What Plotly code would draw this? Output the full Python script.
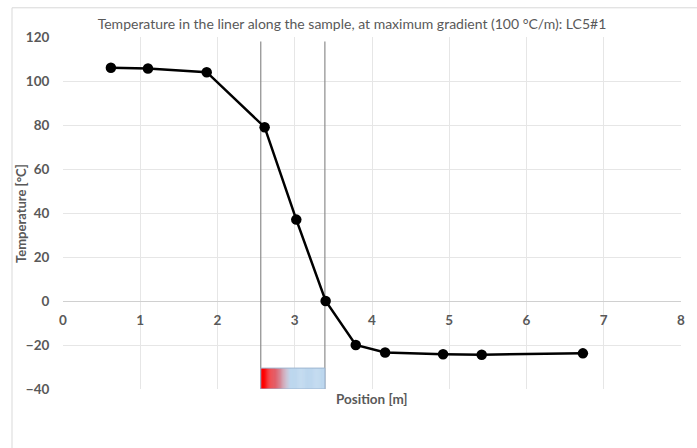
import plotly.graph_objects as go

# Measured liner temperature along the sample
position_m = [0.62, 1.10, 1.86, 2.61, 3.02, 3.40, 3.79, 4.17, 4.92, 5.42, 6.73]
temperature_c = [106, 105.7, 104, 79, 37, 0, -20, -23.4, -24.2, -24.4, -23.8]

# Sample zone boundaries [m] and the band drawn under it
sample_zone = [2.56, 3.39]
zone_band = [-40, -30.5]
zone_line_top = 118

x_ticks = [0, 1, 2, 3, 4, 5, 6, 7, 8]
y_ticks = [-40, -20, 0, 20, 40, 60, 80, 100, 120]

TXT = "#595959"
GRID = "#E6E6E6"
FONT = "Lato, Open Sans, sans-serif"

fig = go.Figure()

# Vertical lines marking the sample zone
for xv in sample_zone:
    fig.add_trace(go.Scatter(
        x=[xv, xv], y=[zone_band[0], zone_line_top], mode="lines",
        line=dict(color="#8C8C8C", width=1.2), hoverinfo="skip", showlegend=False))

fig.add_trace(go.Scatter(
    x=position_m, y=temperature_c, mode="lines+markers",
    line=dict(color="black", width=2.5),
    marker=dict(color="black", size=10.5),
    showlegend=False))

# Red-to-blue gradient band under the sample zone
def mix(c1, c2, t):
    return tuple(round(a + (b - a) * t) for a, b in zip(c1, c2))

red = (255, 0, 0)
blue = (189, 215, 238)
n = 60
x0, x1 = sample_zone
w = (x1 - x0) / n
shapes = []
for i in range(n):
    f = (i + 0.5) / n
    t = min(1.0, max(0.0, (f - 0.04) / 0.42))
    r, g, b = mix(red, blue, t)
    shapes.append(dict(type="rect", xref="x", yref="y",
                       x0=x0 + i * w, x1=x0 + (i + 1) * w + w * 0.3,
                       y0=zone_band[0], y1=zone_band[1],
                       fillcolor=f"rgb({r},{g},{b})", line=dict(width=0), layer="above"))
shapes.append(dict(type="rect", xref="x", yref="y", x0=x0, x1=x1,
                   y0=zone_band[0], y1=zone_band[1],
                   fillcolor="rgba(0,0,0,0)", line=dict(color="#9DB5D0", width=1), layer="above"))
# Chart frame (left and top edges)
shapes.append(dict(type="line", xref="paper", yref="paper", x0=-0.0825, x1=-0.0825, y0=-0.2, y1=1.083,
                   line=dict(color="#D9D9D9", width=1)))
shapes.append(dict(type="line", xref="paper", yref="paper", x0=-0.0825, x1=1.03, y0=1.083, y1=1.083,
                   line=dict(color="#D9D9D9", width=1)))

TICKFONT = dict(size=13.5, color=TXT, family=FONT, weight=700)

fig.update_layout(
    width=697, height=448,
    margin=dict(l=63, r=14, t=37, b=59),
    paper_bgcolor="white", plot_bgcolor="white",
    font=dict(family=FONT, color=TXT, size=12),
    title=dict(text="Temperature in the liner along the sample, at maximum gradient (100 °C/m): LC5#1",
               x=0.505, xanchor="center", y=0.947, yanchor="middle",
               font=dict(size=14, color=TXT, family=FONT)),
    shapes=shapes,
    xaxis=dict(range=[0, 8], tickvals=x_ticks, showgrid=True, gridcolor=GRID, gridwidth=1,
               zeroline=False, showline=True, linecolor="#D0D0D0", linewidth=1,
               anchor="free", position=0.25, layer="below traces",
               ticks="outside", ticklen=7, tickcolor="rgba(0,0,0,0)",
               tickfont=TICKFONT),
    yaxis=dict(range=[-40, 120], tickvals=y_ticks, showgrid=True, gridcolor=GRID, gridwidth=1,
               zeroline=False, showline=False, layer="below traces",
               ticks="outside", ticklen=10, tickcolor="rgba(0,0,0,0)",
               tickfont=TICKFONT),
    annotations=[
        dict(text="Position [m]", xref="paper", yref="paper", x=0.5, y=-0.027,
             xanchor="center", yanchor="middle", showarrow=False,
             font=dict(size=13.5, color=TXT, family=FONT, weight=700)),
        dict(text="Temperature [°C]", xref="paper", yref="paper", x=-0.068, y=0.5,
             xanchor="center", yanchor="middle", textangle=-90, showarrow=False,
             font=dict(size=13, color=TXT, family=FONT, weight=700)),
    ],
)

fig.write_html("out.html")
